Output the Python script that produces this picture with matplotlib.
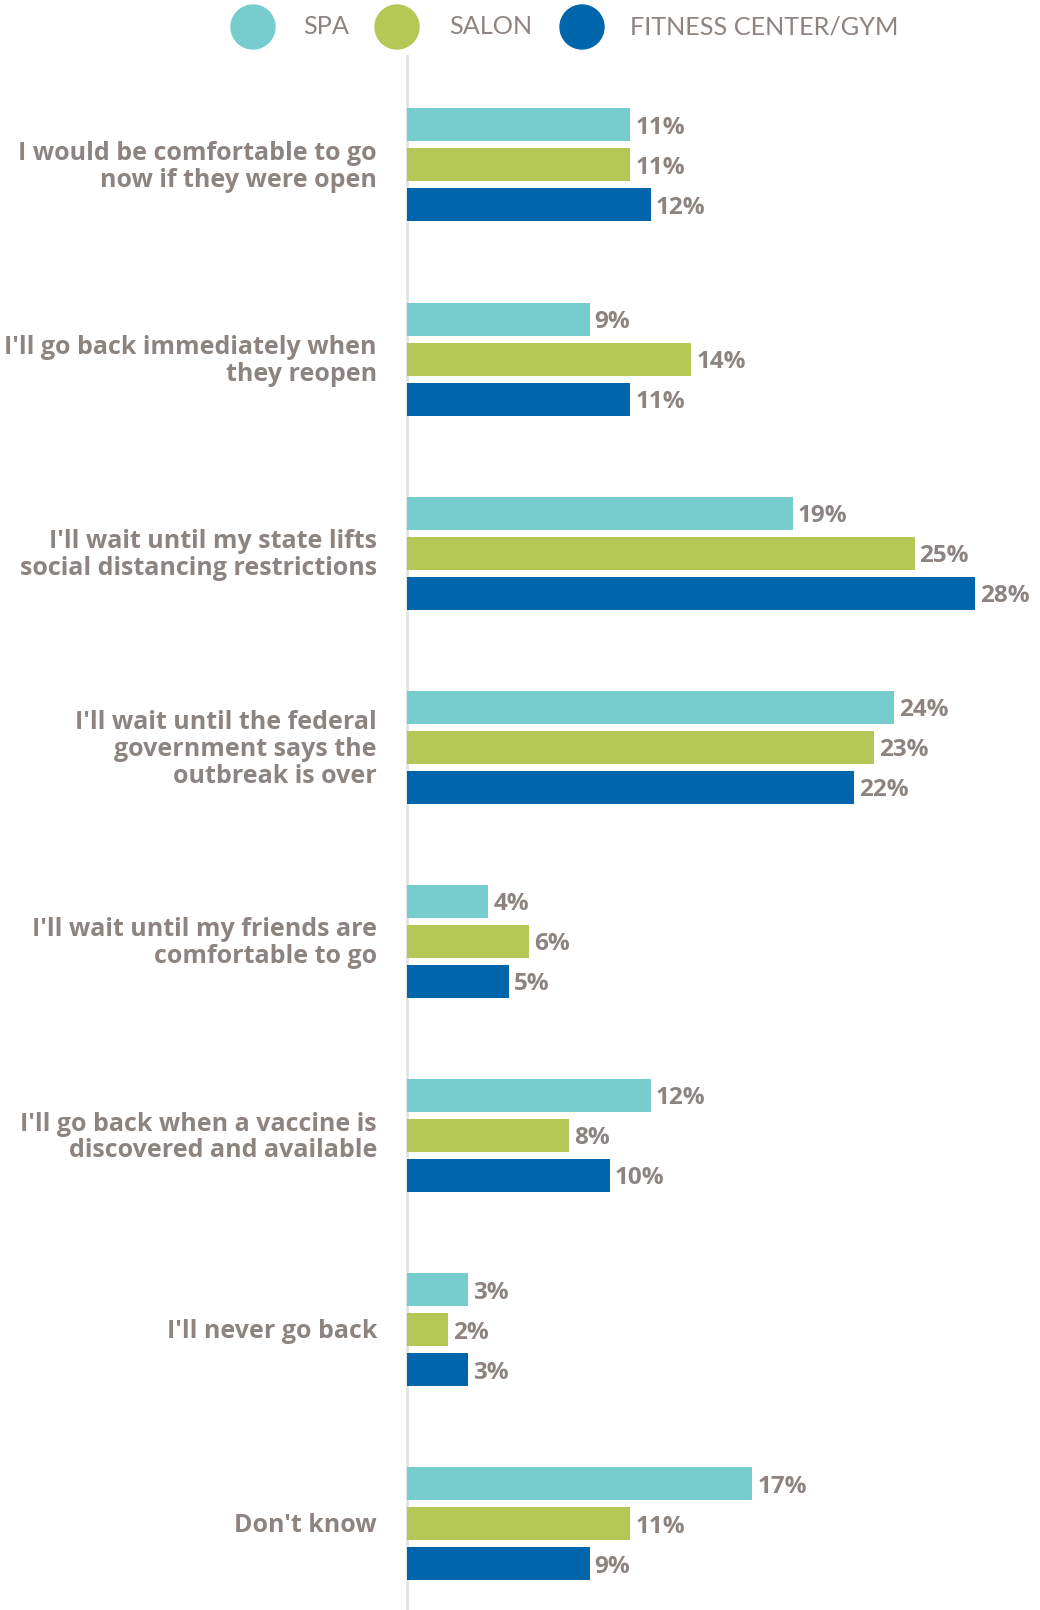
import matplotlib.pyplot as plt
from matplotlib.patches import Ellipse

plt.rcParams["font.family"] = ["Lato", "DejaVu Sans"]

categories = [
    "I would be comfortable to go\nnow if they were open",
    "I'll go back immediately when\nthey reopen",
    "I'll wait until my state lifts\nsocial distancing restrictions",
    "I'll wait until the federal\ngovernment says the\noutbreak is over",
    "I'll wait until my friends are\ncomfortable to go",
    "I'll go back when a vaccine is\ndiscovered and available",
    "I'll never go back",
    "Don't know",
]
series_names = ["SPA", "SALON", "FITNESS CENTER/GYM"]
spa = [11, 9, 19, 24, 4, 12, 3, 17]
salon = [11, 14, 25, 23, 6, 8, 2, 11]
gym = [12, 11, 28, 22, 5, 10, 3, 9]

colors = ["#77cdce", "#b5c855", "#0066ab"]
text_color = "#8d847f"
bold_font = ["Open Sans", "DejaVu Sans"]

W, H, DPI = 1040, 1610, 100
fig = plt.figure(figsize=(W / DPI, H / DPI), dpi=DPI)

# plot area: left edge is the grey axis line, runs to the bottom of the figure
ax_left, ax_top = 407, 56
ax = fig.add_axes([ax_left / W, 0, (W - ax_left) / W, (H - ax_top) / H])

px_per_pct = 20.3
group_px = 194.1
first_center = 165
ax.set_xlim(0, (W - ax_left) / px_per_pct)
ax.set_ylim((H - first_center) / group_px, -(first_center - ax_top) / group_px)

bar_h = 33 / group_px
step = 40 / group_px
for k, vals in enumerate([spa, salon, gym]):
    ys = [i + (k - 1) * step for i in range(len(categories))]
    ax.barh(ys, vals, height=bar_h, color=colors[k], zorder=3)
    for y, v in zip(ys, vals):
        ax.annotate(f"{v}%", xy=(v, y), xytext=(5, 0), textcoords="offset pixels",
                    ha="left", va="center_baseline", fontsize=17.5, fontweight="bold",
                    family=bold_font, color=text_color)

for i, cat in enumerate(categories):
    ax.annotate(cat, xy=(0, i), xycoords=("axes fraction", "data"),
                xytext=(-30, -2), textcoords="offset pixels",
                ha="right", va="center", fontsize=18, fontweight="bold",
                family=bold_font, color=text_color, linespacing=1.1,
                multialignment="right")

for side in ["top", "right", "bottom"]:
    ax.spines[side].set_visible(False)
ax.spines["left"].set_color("#e2e2e2")
ax.spines["left"].set_linewidth(2)
ax.set_xticks([])
ax.set_yticks([])

# legend row: coloured dots with labels
legend_y = 27
dot_x = [253, 397, 582]
text_x = [303, 449, 630]
for cx, tx, c, name in zip(dot_x, text_x, colors, series_names):
    fig.add_artist(Ellipse((cx / W, 1 - legend_y / H), 44 / W, 44 / H,
                           transform=fig.transFigure, color=c))
    fig.text(tx / W, 1 - legend_y / H, name, ha="left", va="center",
             fontsize=18.2, color=text_color)

fig.savefig("out.png", dpi=DPI)
